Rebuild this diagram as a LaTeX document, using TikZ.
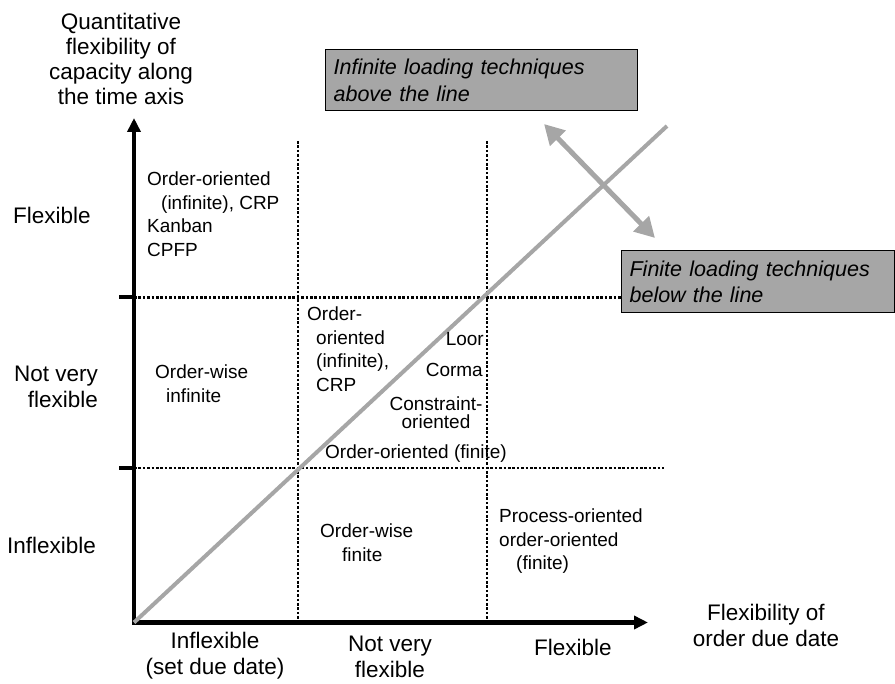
\documentclass[tikz,border=0pt]{standalone}
\usepackage{fontspec}
\setmainfont{Liberation Sans}
\usetikzlibrary{arrows.meta}
\definecolor{linegray}{HTML}{A6A6A6}
\begin{document}
\begin{tikzpicture}[x=1pt,y=-1pt,
  cell/.style={font=\fontsize{19}{23.5}\selectfont,inner sep=0pt,align=left},
  axlabel/.style={font=\fontsize{22.5}{26}\selectfont,inner sep=0pt,align=center},
  grid/.style={line width=2.6pt,dash pattern=on 2.6pt off 1.8pt},
  note/.style={draw=black,line width=1.2pt,fill=linegray,inner xsep=8pt,inner ysep=0pt,font=\fontsize{21.5}{26.5}\selectfont\itshape,align=left,anchor=north west}]
\useasboundingbox (0,0) rectangle (895,684);
% axes and grid
\coordinate (o) at (134,622.5); \coordinate (ytop) at (134,118); \coordinate (xend) at (648,622.5);
\draw[grid] (298,141)--(298,622) (487,141)--(487,622) (134,297.5)--(640,297.5) (134,468)--(664,468);
\draw[line width=4.5pt,-{Triangle[length=14pt,width=13pt]}] ([yshift=2pt]o)--(ytop);
\draw[line width=4.5pt,-{Triangle[length=14pt,width=13pt]}] ([xshift=-2pt]o)--(xend);
\draw[line width=4pt] (119,297.5)--(134,297.5) (119,468)--(134,468);
\draw[linegray,line width=4pt] (o)--(667,126);
\draw[linegray,line width=5pt,{Triangle[length=20pt,width=21pt]}-{Triangle[length=20pt,width=21pt]}] (544,124)--(655,238);
% notes
\node[note,text width=296pt,minimum height=61pt] (above) at (325,49) {Infinite loading techniques\\above the line};
\node[note,text width=257pt,minimum height=62pt] (below) at (621,250) {Finite loading techniques\\below the line};
% axis labels
\node[axlabel,anchor=north,font=\fontsize{22.5}{25.3}\selectfont] (ytitle) at (121,12.5) {Quantitative\\flexibility of\\capacity along\\the time axis};
\node[axlabel,anchor=north] (xtitle) at (766,603.5) {Flexibility of\\order due date};
\node[axlabel,anchor=west] (yflex) at (13,215) {Flexible};
\node[axlabel,anchor=east,align=right] (ynot) at (98,386.5) {Not very\\flexible};
\node[axlabel,anchor=west] (yinflex) at (7,545) {Inflexible};
\node[axlabel] (xinflex) at (215,656) {Inflexible\\(set due date)};
\node[axlabel] (xnot) at (390,657) {Not very\\flexible};
\node[axlabel] (xflex) at (573,647) {Flexible};
% cells
\node[cell,anchor=north west] (c13) at (147,172) {Order-oriented\\\hspace*{14pt}(infinite), CRP\\Kanban\\CPFP};
\node[cell,anchor=north west] (c12) at (155,365) {Order-wise\\\hspace*{11pt}infinite};
\node[cell,anchor=north west] (c22) at (307,307) {Order-\\\hspace*{9pt}oriented\\\hspace*{9pt}(infinite),\\\hspace*{9pt}CRP};
\node[cell,anchor=east] (loor) at (484,339) {Loor};
\node[cell,anchor=east] (corma) at (483,370) {Corma};
\node[cell,align=center,anchor=north,font=\fontsize{19}{17.5}\selectfont] (constr) at (436,397) {Constraint-\\oriented};
\node[cell,anchor=west] (oofin) at (325,454) {Order-oriented (finite)};
\node[cell,anchor=north west] (c21) at (320,524) {Order-wise\\\hspace*{22pt}finite};
\node[cell,anchor=north west] (c31) at (499,509) {Process-oriented\\order-oriented\\\hspace*{17pt}(finite)};
\end{tikzpicture}
\end{document}
